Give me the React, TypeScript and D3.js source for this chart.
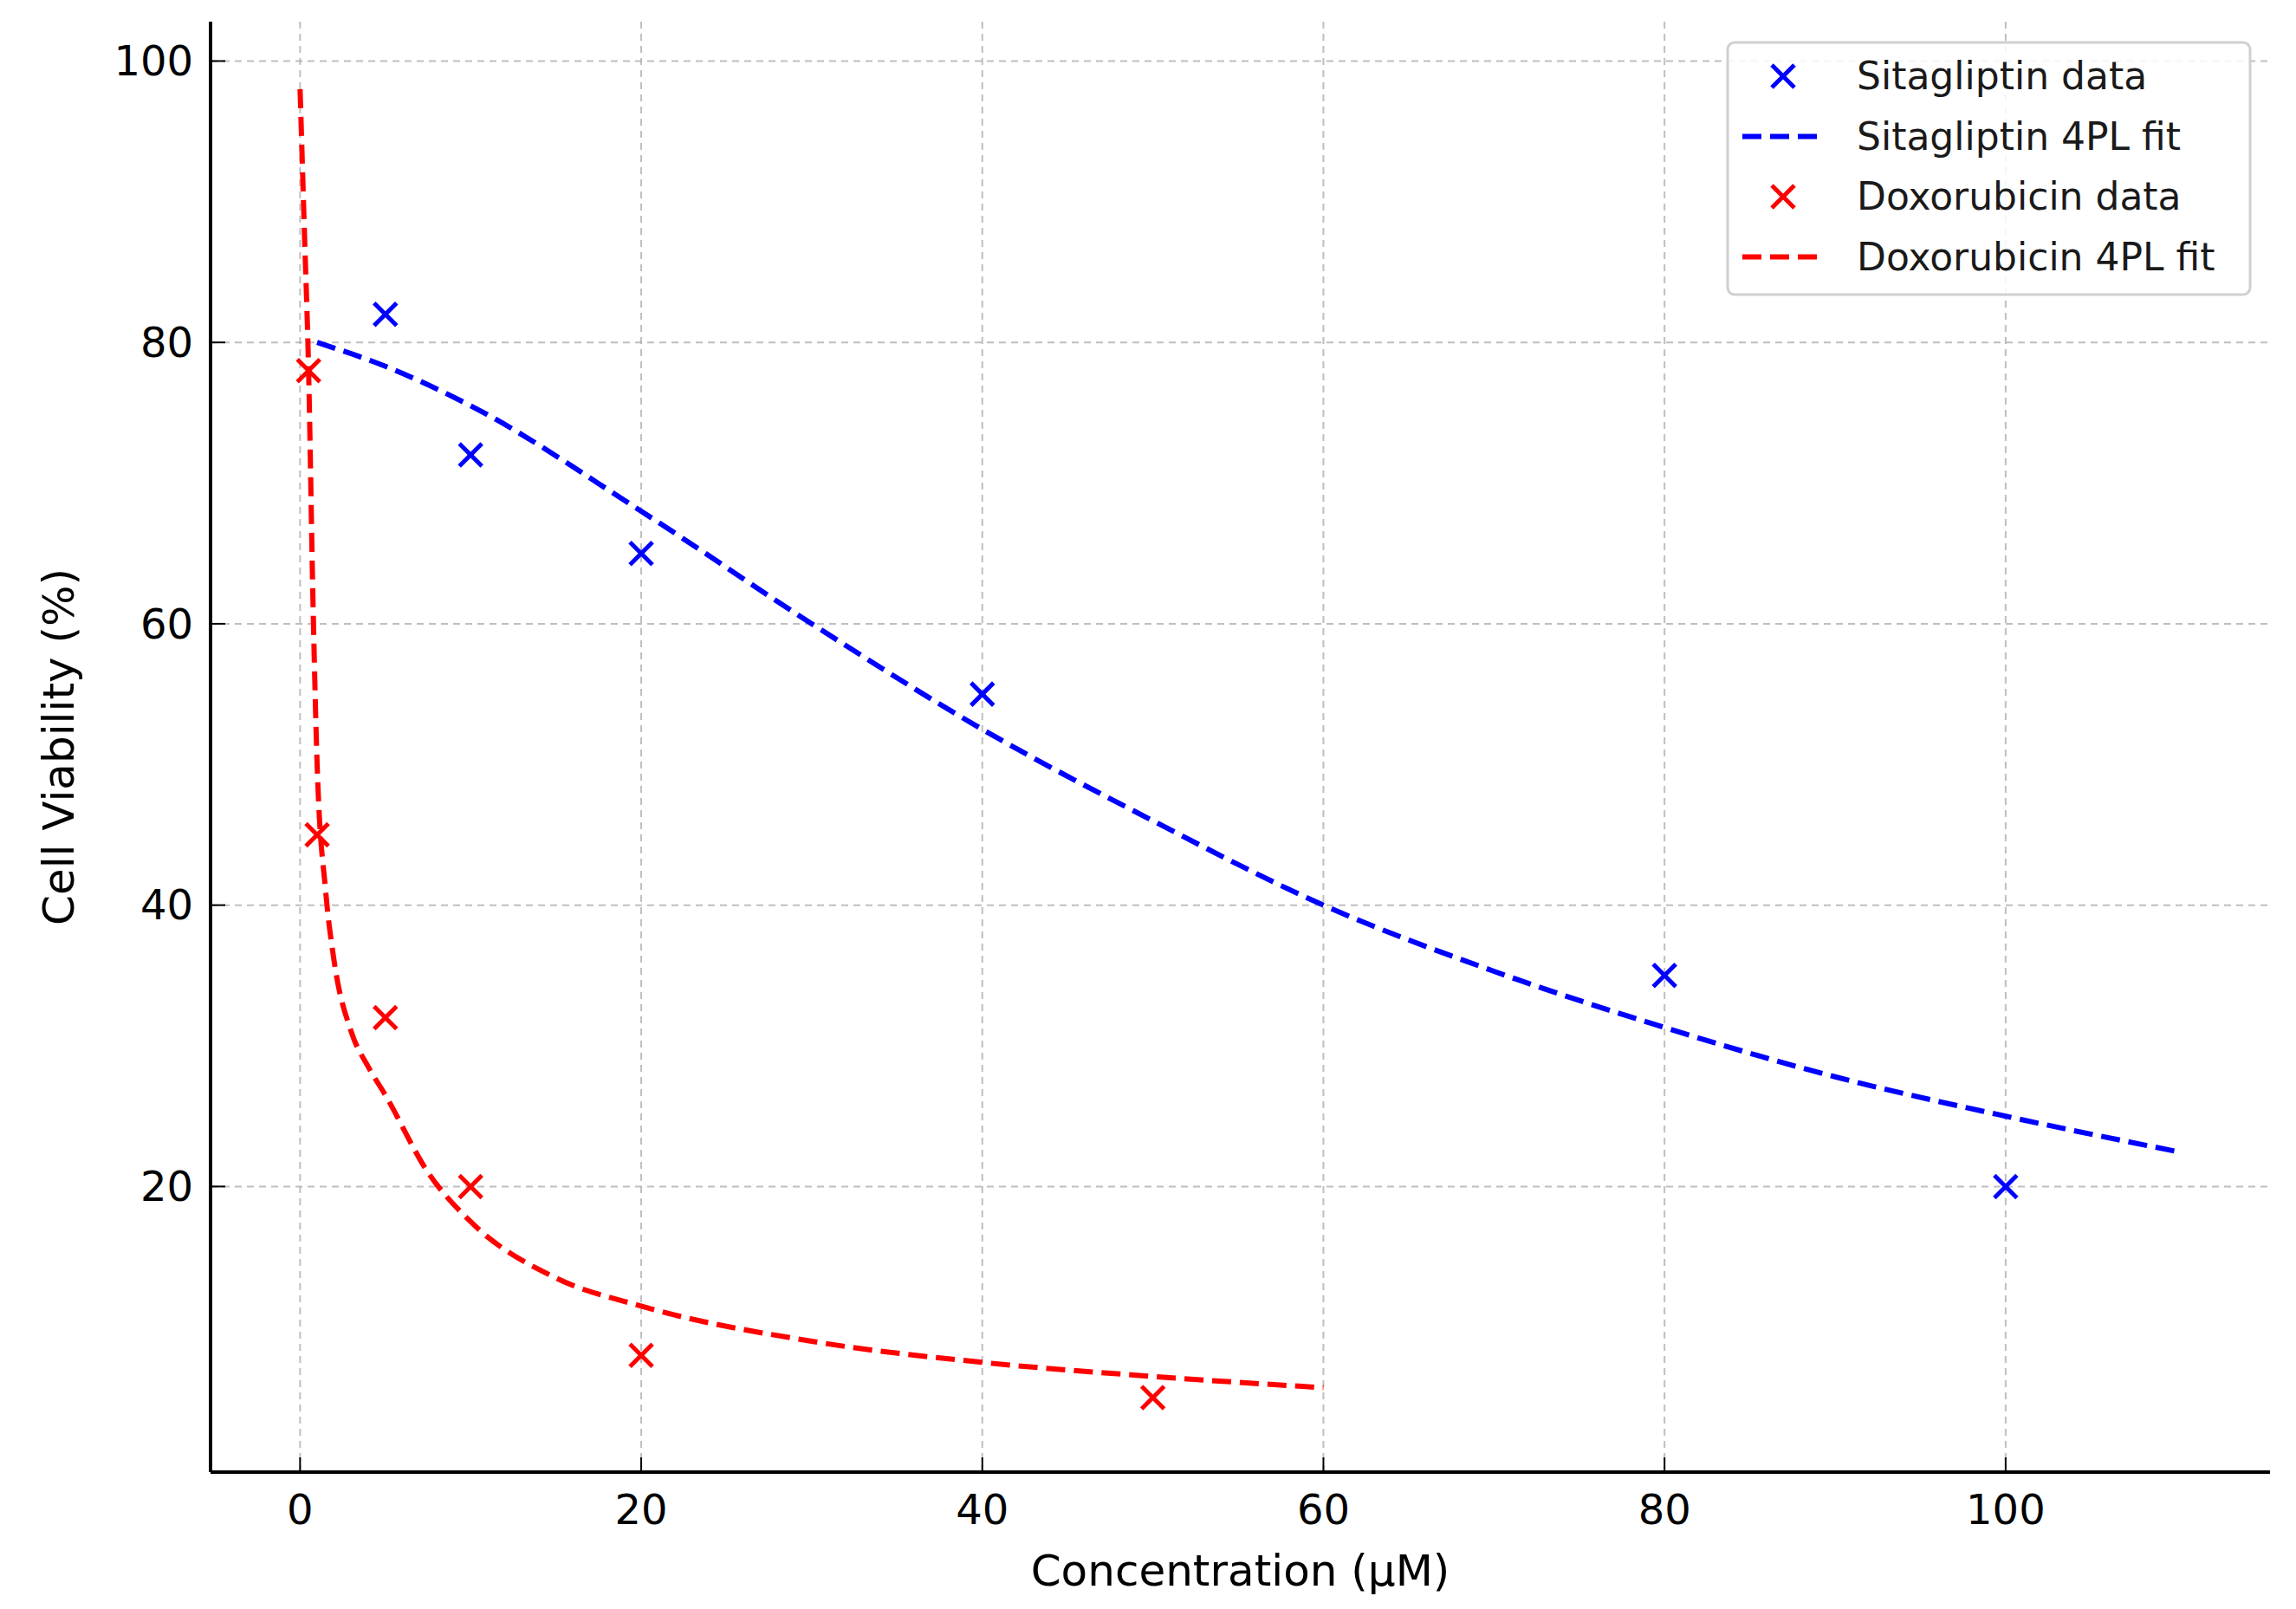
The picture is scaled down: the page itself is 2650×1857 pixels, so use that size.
import React from "react";
import * as d3 from "d3";

const sitaX = [5, 10, 20, 40, 80, 100];
const sitaY = [82, 72, 65, 55, 35, 20];
const doxoX = [0.5, 1, 5, 10, 20, 50];
const doxoY = [78, 45, 32, 20, 8, 5];
const sitaFitX = [1, 5, 10, 20, 30, 40, 50, 60, 70, 80, 90, 100, 110];
const sitaFitY = [80, 78.3, 75.5, 68, 60, 52.5, 46, 40, 35.3, 31.3, 27.8, 25, 22.5];
const doxoFitX = [0, 0.25, 0.5, 0.75, 1, 1.5, 2, 3, 4, 5, 7.5, 10, 15, 20, 30, 40, 50, 60];
const doxoFitY = [98, 88, 78, 62, 50, 41, 36, 31, 28.5, 26.5, 21, 17.5, 13.5, 11.5, 9, 7.5, 6.5, 5.7];
const xTicks = [0, 20, 40, 60, 80, 100];
const yTicks = [20, 40, 60, 80, 100];
const legendItems = [
  { label: "Sitagliptin data", color: "#0000ff", kind: "marker" },
  { label: "Sitagliptin 4PL fit", color: "#0000ff", kind: "line" },
  { label: "Doxorubicin data", color: "#ff0000", kind: "marker" },
  { label: "Doxorubicin 4PL fit", color: "#ff0000", kind: "line" },
];

const W = 2650, H = 1857;
const L = 243, R = 2620, T = 25, B = 1699;
const FONT = "DejaVu Sans";

export default function App() {
  const x = d3.scaleLinear().domain([-5.25, 115.5]).range([L, R]);
  const y = d3.scaleLinear().domain([-0.3, 102.8]).range([B, T]);
  const line = d3.line<[number, number]>().x(d => x(d[0])).y(d => y(d[1])).curve(d3.curveMonotoneX);
  const cross = (cx: number, cy: number, c: string, k: string) => {
    const s = 13;
    return (
      <g key={k} stroke={c} strokeWidth={5}>
        <line x1={cx - s} y1={cy - s} x2={cx + s} y2={cy + s} />
        <line x1={cx - s} y1={cy + s} x2={cx + s} y2={cy - s} />
      </g>
    );
  };
  const sitaFit = sitaFitX.map((v, i) => [v, sitaFitY[i]] as [number, number]);
  const doxoFit = doxoFitX.map((v, i) => [v, doxoFitY[i]] as [number, number]);
  return (
    <svg width={W} height={H} style={{ position: "absolute", left: 0, top: 0, background: "#fff" }} fontFamily={FONT}>
      <rect width={W} height={H} fill="#fff" />
      {xTicks.map(t => (
        <line key={"gx" + t} x1={x(t)} x2={x(t)} y1={T} y2={B} stroke="#b0b0b0" strokeWidth={2} strokeDasharray="8,6" opacity={0.8} />
      ))}
      {yTicks.map(t => (
        <line key={"gy" + t} x1={L} x2={R} y1={y(t)} y2={y(t)} stroke="#b0b0b0" strokeWidth={2} strokeDasharray="8,6" opacity={0.8} />
      ))}
      <path d={line(sitaFit) || ""} fill="none" stroke="#0000ff" strokeWidth={6} strokeDasharray="22,10" />
      <path d={line(doxoFit) || ""} fill="none" stroke="#ff0000" strokeWidth={6} strokeDasharray="22,10" />
      {sitaX.map((v, i) => cross(x(v), y(sitaY[i]), "#0000ff", "s" + i))}
      {doxoX.map((v, i) => cross(x(v), y(doxoY[i]), "#ff0000", "d" + i))}
      <line x1={L} x2={R} y1={B} y2={B} stroke="#000" strokeWidth={4} />
      <line x1={L} x2={L} y1={T} y2={B} stroke="#000" strokeWidth={4} />
      {xTicks.map(t => (
        <g key={"tx" + t}>
          <line x1={x(t)} x2={x(t)} y1={B} y2={B - 17} stroke="#000" strokeWidth={2} />
          <text x={x(t)} y={B + 60} textAnchor="middle" fontSize={48} fill="#000">{t}</text>
        </g>
      ))}
      {yTicks.map(t => (
        <g key={"ty" + t}>
          <line x1={L} x2={L + 17} y1={y(t)} y2={y(t)} stroke="#000" strokeWidth={2} />
          <text x={L - 20} y={y(t)} dy="0.35em" textAnchor="end" fontSize={48} fill="#000">{t}</text>
        </g>
      ))}
      <text x={(L + R) / 2} y={1830} textAnchor="middle" fontSize={50} fill="#000">Concentration (μM)</text>
      <text transform={`translate(85,${(T + B) / 2}) rotate(-90)`} textAnchor="middle" fontSize={50} fill="#000">Cell Viability (%)</text>
      <rect x={1994} y={49} width={603} height={291} rx={8} fill="#fff" fillOpacity={0.85} stroke="#d0d0d0" strokeWidth={3} />
      {legendItems.map((it, i) => {
        const cy = 88 + i * 69.5;
        return (
          <g key={"lg" + i}>
            {it.kind === "marker"
              ? cross(2058, cy, it.color, "lm" + i)
              : <line x1={2011} x2={2106} y1={cy} y2={cy} stroke={it.color} strokeWidth={6} strokeDasharray="22,10" />}
            <text x={2143} y={cy} dy="0.35em" fontSize={44} fill="#1a1a1a">{it.label}</text>
          </g>
        );
      })}
    </svg>
  );
}
